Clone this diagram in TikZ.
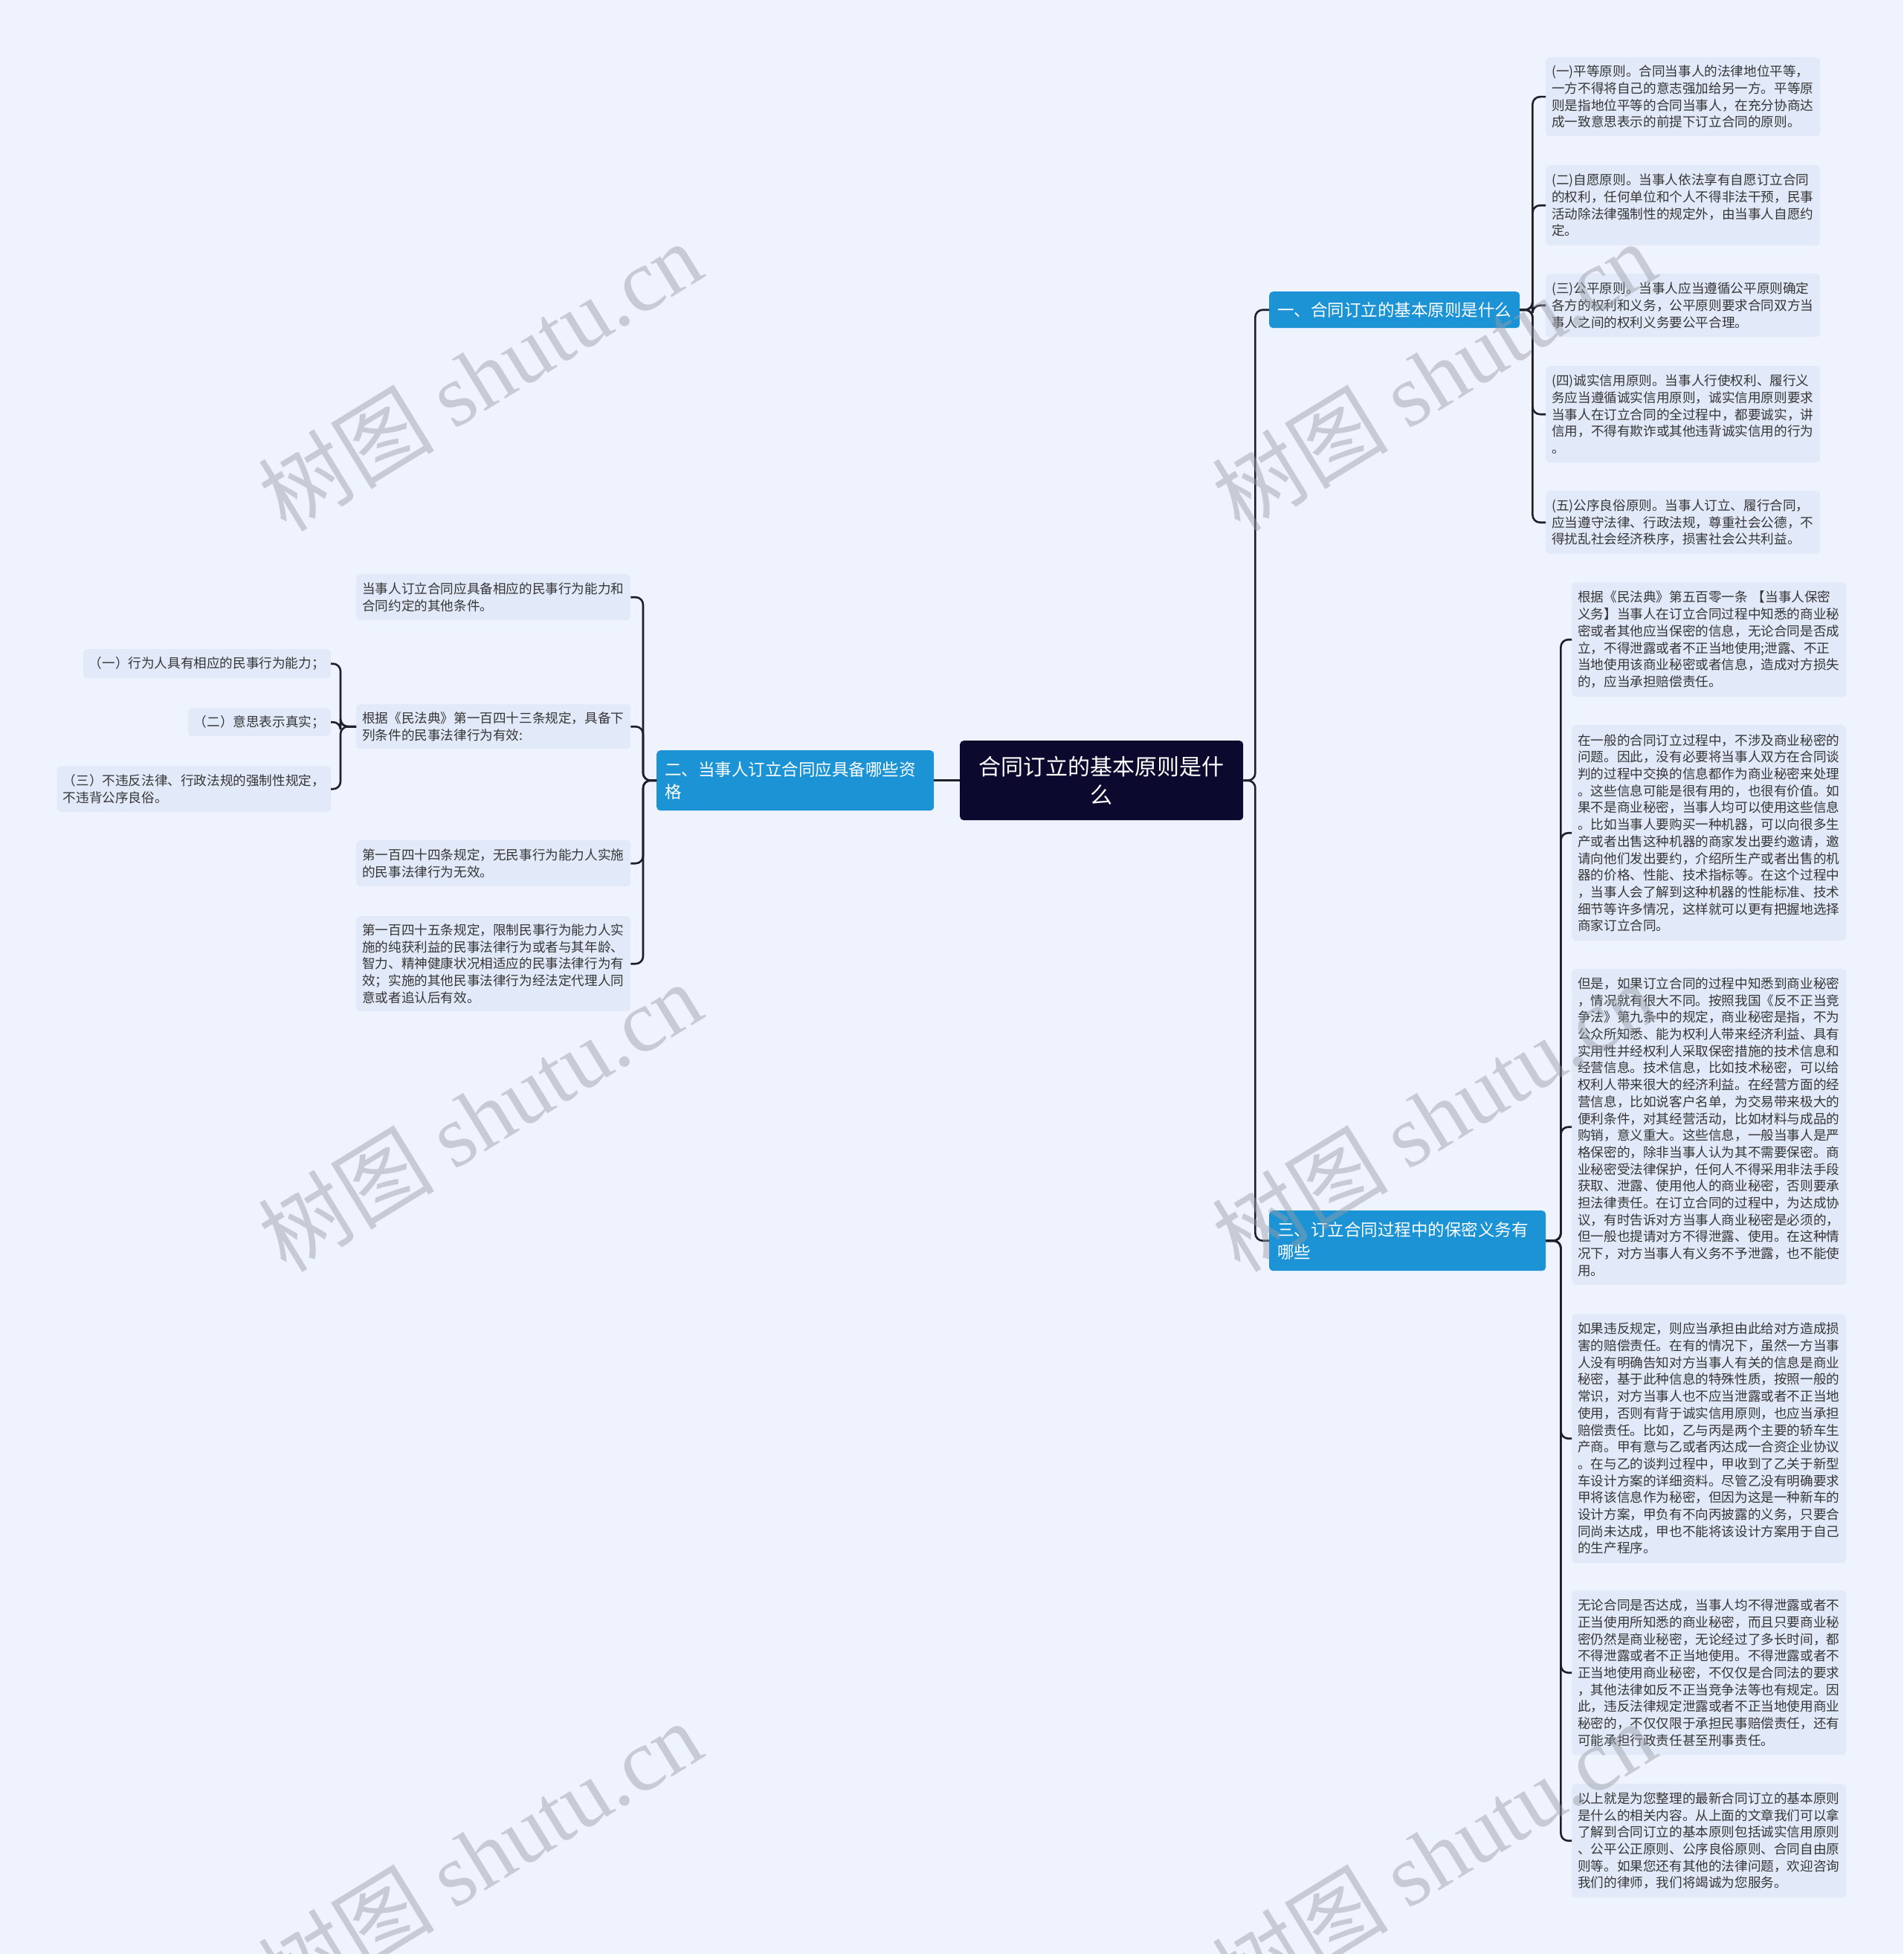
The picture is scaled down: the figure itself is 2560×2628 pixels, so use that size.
\documentclass[tikz,border=0pt]{standalone}
\usepackage{fontspec}
\setmainfont{Noto Sans CJK SC}
\newfontfamily\wmlatin{Liberation Serif}
\definecolor{bgc}{HTML}{EEF3FD}
\definecolor{leafc}{HTML}{E2E9F8}
\definecolor{brc}{HTML}{1B93D4}
\definecolor{ctrc}{HTML}{0B0A2E}
\definecolor{linec}{HTML}{1E1E2C}
\definecolor{txtc}{HTML}{363636}
\definecolor{wmc}{HTML}{9A9CA6}
\begin{document}
\begin{tikzpicture}[x=1pt,y=-1pt,
  leaf/.style={draw=none, fill=leafc, rounded corners=6pt, text=txtc,
    font=\fontsize{17.6}{22.7}\selectfont, inner xsep=8pt, inner ysep=0pt,
    align=left, text width=353pt, anchor=north west},
  sleaf/.style={draw=none, fill=leafc, rounded corners=6pt, text=txtc,
    font=\fontsize{17.6}{22.7}\selectfont, inner xsep=8pt, inner ysep=0pt,
    anchor=north east},
  branch/.style={draw=none, fill=brc, rounded corners=5pt, text=white,
    font=\fontsize{22.5}{30}\selectfont, inner xsep=11pt, inner ysep=0pt,
    align=left, anchor=north west},
  center/.style={draw=none, fill=ctrc, rounded corners=5pt, text=white,
    font=\fontsize{30}{38}\selectfont, inner sep=0pt, align=center,
    text width=360pt, minimum width=381pt, minimum height=107pt, anchor=north west},
  conn/.style={draw=linec, line width=2.6pt, rounded corners=10pt},
  wm/.style={text=wmc, text opacity=0.45, rotate=31.5, inner sep=0pt,
    font=\fontsize{119}{124}\selectfont}
]
\useasboundingbox (0,0) rectangle (2560,2628);
\fill[bgc] (0,0) rectangle (2560,2628);

% center and branches
\node[center] (ctr) at (1291,996) {合同订立的基本原则是什\\么};
\node[branch, text width=315pt, minimum height=49pt] (b1) at (1707,392) {一、合同订立的基本原则是什么};
\node[branch, text width=351pt, minimum height=81pt] (b2) at (883,1009) {二、当事人订立合同应具备哪些资\\格};
\node[branch, text width=350pt, minimum height=81pt] (b3) at (1707,1628) {三、订立合同过程中的保密义务有\\哪些};

% branch 1 children
\node[leaf, minimum height=106pt] (c1) at (2079,77) {(一)平等原则。合同当事人的法律地位平等，\\一方不得将自己的意志强加给另一方。平等原\\则是指地位平等的合同当事人，在充分协商达\\成一致意思表示的前提下订立合同的原则。};
\node[leaf, minimum height=108pt] (c2) at (2079,222) {(二)自愿原则。当事人依法享有自愿订立合同\\的权利，任何单位和个人不得非法干预，民事\\活动除法律强制性的规定外，由当事人自愿约\\定。};
\node[leaf, minimum height=85pt] (c3) at (2079,368) {(三)公平原则。当事人应当遵循公平原则确定\\各方的权利和义务，公平原则要求合同双方当\\事人之间的权利义务要公平合理。};
\node[leaf, minimum height=130pt] (c4) at (2079,492) {(四)诚实信用原则。当事人行使权利、履行义\\务应当遵循诚实信用原则，诚实信用原则要求\\当事人在订立合同的全过程中，都要诚实，讲\\信用，不得有欺诈或其他违背诚实信用的行为\\。};
\node[leaf, minimum height=85pt] (c5) at (2079,660) {(五)公序良俗原则。当事人订立、履行合同，\\应当遵守法律、行政法规，尊重社会公德，不\\得扰乱社会经济秩序，损害社会公共利益。};

% branch 3 children
\node[leaf, minimum height=154pt] (d1) at (2114,783) {根据《民法典》第五百零一条 【当事人保密\\义务】当事人在订立合同过程中知悉的商业秘\\密或者其他应当保密的信息，无论合同是否成\\立，不得泄露或者不正当地使用;泄露、不正\\当地使用该商业秘密或者信息，造成对方损失\\的，应当承担赔偿责任。};
\node[leaf, minimum height=290pt] (d2) at (2114,975) {在一般的合同订立过程中，不涉及商业秘密的\\问题。因此，没有必要将当事人双方在合同谈\\判的过程中交换的信息都作为商业秘密来处理\\。这些信息可能是很有用的，也很有价值。如\\果不是商业秘密，当事人均可以使用这些信息\\。比如当事人要购买一种机器，可以向很多生\\产或者出售这种机器的商家发出要约邀请，邀\\请向他们发出要约，介绍所生产或者出售的机\\器的价格、性能、技术指标等。在这个过程中\\，当事人会了解到这种机器的性能标准、技术\\细节等许多情况，这样就可以更有把握地选择\\商家订立合同。};
\node[leaf, minimum height=425pt] (d3) at (2114,1303) {但是，如果订立合同的过程中知悉到商业秘密\\，情况就有很大不同。按照我国《反不正当竞\\争法》第九条中的规定，商业秘密是指，不为\\公众所知悉、能为权利人带来经济利益、具有\\实用性并经权利人采取保密措施的技术信息和\\经营信息。技术信息，比如技术秘密，可以给\\权利人带来很大的经济利益。在经营方面的经\\营信息，比如说客户名单，为交易带来极大的\\便利条件，对其经营活动，比如材料与成品的\\购销，意义重大。这些信息，一般当事人是严\\格保密的，除非当事人认为其不需要保密。商\\业秘密受法律保护，任何人不得采用非法手段\\获取、泄露、使用他人的商业秘密，否则要承\\担法律责任。在订立合同的过程中，为达成协\\议，有时告诉对方当事人商业秘密是必须的，\\但一般也提请对方不得泄露、使用。在这种情\\况下，对方当事人有义务不予泄露，也不能使\\用。};
\node[leaf, minimum height=335pt] (d4) at (2114,1767) {如果违反规定，则应当承担由此给对方造成损\\害的赔偿责任。在有的情况下，虽然一方当事\\人没有明确告知对方当事人有关的信息是商业\\秘密，基于此种信息的特殊性质，按照一般的\\常识，对方当事人也不应当泄露或者不正当地\\使用，否则有背于诚实信用原则，也应当承担\\赔偿责任。比如，乙与丙是两个主要的轿车生\\产商。甲有意与乙或者丙达成一合资企业协议\\。在与乙的谈判过程中，甲收到了乙关于新型\\车设计方案的详细资料。尽管乙没有明确要求\\甲将该信息作为秘密，但因为这是一种新车的\\设计方案，甲负有不向丙披露的义务，只要合\\同尚未达成，甲也不能将该设计方案用于自己\\的生产程序。};
\node[leaf, minimum height=221pt] (d5) at (2114,2139) {无论合同是否达成，当事人均不得泄露或者不\\正当使用所知悉的商业秘密，而且只要商业秘\\密仍然是商业秘密，无论经过了多长时间，都\\不得泄露或者不正当地使用。不得泄露或者不\\正当地使用商业秘密，不仅仅是合同法的要求\\，其他法律如反不正当竞争法等也有规定。因\\此，违反法律规定泄露或者不正当地使用商业\\秘密的，不仅仅限于承担民事赔偿责任，还有\\可能承担行政责任甚至刑事责任。};
\node[leaf, minimum height=153pt] (d6) at (2114,2399) {以上就是为您整理的最新合同订立的基本原则\\是什么的相关内容。从上面的文章我们可以拿\\了解到合同订立的基本原则包括诚实信用原则\\、公平公正原则、公序良俗原则、合同自由原\\则等。如果您还有其他的法律问题，欢迎咨询\\我们的律师，我们将竭诚为您服务。};

% branch 2 children
\node[leaf, minimum height=62pt] (e1) at (479,772) {当事人订立合同应具备相应的民事行为能力和\\合同约定的其他条件。};
\node[leaf, minimum height=60pt] (e2) at (479,947) {根据《民法典》第一百四十三条规定，具备下\\列条件的民事法律行为有效:};
\node[leaf, minimum height=62pt] (e3) at (479,1130) {第一百四十四条规定，无民事行为能力人实施\\的民事法律行为无效。};
\node[leaf, minimum height=128pt] (e4) at (479,1232) {第一百四十五条规定，限制民事行为能力人实\\施的纯获利益的民事法律行为或者与其年龄、\\智力、精神健康状况相适应的民事法律行为有\\效；实施的其他民事法律行为经法定代理人同\\意或者追认后有效。};

% e2 children
\node[sleaf, minimum width=333pt, minimum height=39pt] (f1) at (445,873) {（一）行为人具有相应的民事行为能力；};
\node[sleaf, minimum width=192pt, minimum height=38pt] (f2) at (445,952) {（二）意思表示真实；};
\node[sleaf, align=left, text width=352pt, minimum height=62pt] (f3) at (445,1030) {（三）不违反法律、行政法规的强制性规定，\\不违背公序良俗。};

% connectors
\draw[conn] (ctr.west) -- (b2.east);
\foreach \b in {b1,b3} \draw[conn] (ctr.east) -- ++(16,0) |- (\b.west);
\foreach \c in {c1,c2,c3,c4,c5} \draw[conn] (b1.east) -- ++(17,0) |- (\c.west);
\foreach \d in {d1,d2,d3,d4,d5,d6} \draw[conn] (b3.east) -- ++(20,0) |- (\d.west);
\foreach \e in {e1,e2,e3,e4} \draw[conn] (b2.west) -- ++(-18,0) |- (\e.east);
\foreach \f in {f1,f2,f3} \draw[conn] (e2.west) -- ++(-21,0) |- (\f.east);

% watermarks
\node[wm] (w1) at (645,505) {树图 {\wmlatin shutu.cn}};
\node[wm] (w2) at (645,1501) {树图 {\wmlatin shutu.cn}};
\node[wm] (w3) at (645,2495) {树图 {\wmlatin shutu.cn}};
\node[wm] (w4) at (1928,505) {树图 {\wmlatin shutu.cn}};
\node[wm] (w5) at (1928,1501) {树图 {\wmlatin shutu.cn}};
\node[wm] (w6) at (1928,2495) {树图 {\wmlatin shutu.cn}};
\end{tikzpicture}
\end{document}
